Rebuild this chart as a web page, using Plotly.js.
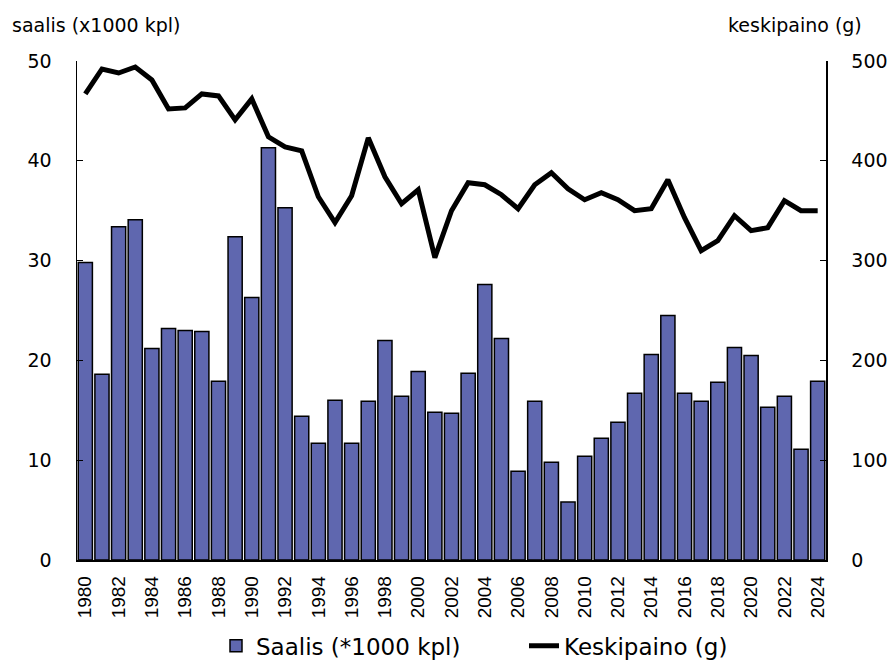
<!DOCTYPE html>
<html>
<head>
<meta charset="utf-8">
<script src="https://cdn.plot.ly/plotly-3.0.1.min.js"></script>
<style>html,body{margin:0;padding:0;background:#fff;}#chart{width:892px;height:662px;}</style>
</head>
<body>
<div id="chart"></div>
<script>
const years = [1980,1981,1982,1983,1984,1985,1986,1987,1988,1989,1990,1991,1992,1993,1994,1995,1996,1997,1998,1999,2000,2001,2002,2003,2004,2005,2006,2007,2008,2009,2010,2011,2012,2013,2014,2015,2016,2017,2018,2019,2020,2021,2022,2023,2024];
const saalis = [29.8,18.6,33.4,34.1,21.2,23.2,23.0,22.9,17.9,32.4,26.3,41.3,35.3,14.4,11.7,16.0,11.7,15.9,22.0,16.4,18.9,14.8,14.7,18.7,27.6,22.2,8.9,15.9,9.8,5.8,10.4,12.2,13.8,16.7,20.6,24.5,16.7,15.9,17.8,21.3,20.5,15.3,16.4,11.1,17.9];
const keskipaino = [467,492,488,494,481,452,453,467,465,441,462,424,414,410,364,338,365,423,384,357,371,303,350,378,376,366,352,376,388,372,361,368,361,350,352,381,343,310,320,345,330,333,360,350,350];
const tickYears = [1980,1982,1984,1986,1988,1990,1992,1994,1996,1998,2000,2002,2004,2006,2008,2010,2012,2014,2016,2018,2020,2022,2024];
const leftTitle = "saalis (x1000 kpl)";
const rightTitle = "keskipaino (g)";
const barName = "Saalis (*1000 kpl)";
const lineName = "Keskipaino (g)";

const font = "DejaVu Sans, sans-serif";
const fontX = "Liberation Sans, Arial, sans-serif";

const traces = [
  {type:'bar', x:years, y:saalis, name:barName, yaxis:'y',
   marker:{color:'#5f67af', line:{color:'#000', width:1.5}}},
  {type:'scatter', mode:'lines', x:years, y:keskipaino, name:lineName, yaxis:'y2',
   line:{color:'#000', width:5}}
];

const layout = {
  width:892, height:662,
  margin:{l:77, r:66, t:61, b:102, autoexpand:false},
  paper_bgcolor:'#fff', plot_bgcolor:'#fff',
  font:{family:font, color:'#000'},
  bargap:0.15,
  showlegend:true,
  legend:{orientation:'h', x:(216-77)/749, xanchor:'left', y:-0.172, yanchor:'middle',
          font:{size:23, family:font}, traceorder:'normal', entrywidth:263},
  xaxis:{range:[1979.5,2024.5], tickvals:tickYears, ticktext:tickYears.map(String),
         tickangle:-90, tickfont:{size:19, family:fontX}, showgrid:false, zeroline:false,
         showline:true, linecolor:'#000', linewidth:1.5, ticks:'', ticklen:0, ticklabelstandoff:7},
  yaxis:{range:[0,50], dtick:10, tickfont:{size:19}, showgrid:false, zeroline:false,
         showline:true, linecolor:'#000', linewidth:1.5, ticks:'inside', ticklen:6, tickcolor:'#000',
         ticklabelstandoff:20},
  yaxis2:{range:[0,500], dtick:100, overlaying:'y', side:'right', tickfont:{size:19}, showgrid:false,
          zeroline:false, showline:true, linecolor:'#000', linewidth:1.5, ticks:'inside', ticklen:6,
          tickcolor:'#000', ticklabelstandoff:20},
  annotations:[
    {text:leftTitle, xref:'paper', yref:'paper', x:(10-77)/749, y:(560-25)/499, xanchor:'left', yanchor:'middle',
     showarrow:false, font:{size:19, family:font}},
    {text:rightTitle, xref:'paper', yref:'paper', x:(864-77)/749, y:(560-25)/499, xanchor:'right', yanchor:'middle',
     showarrow:false, font:{size:19, family:font}}
  ]
};

Plotly.newPlot('chart', traces, layout, {displayModeBar:false, staticPlot:true});
</script>
</body>
</html>
